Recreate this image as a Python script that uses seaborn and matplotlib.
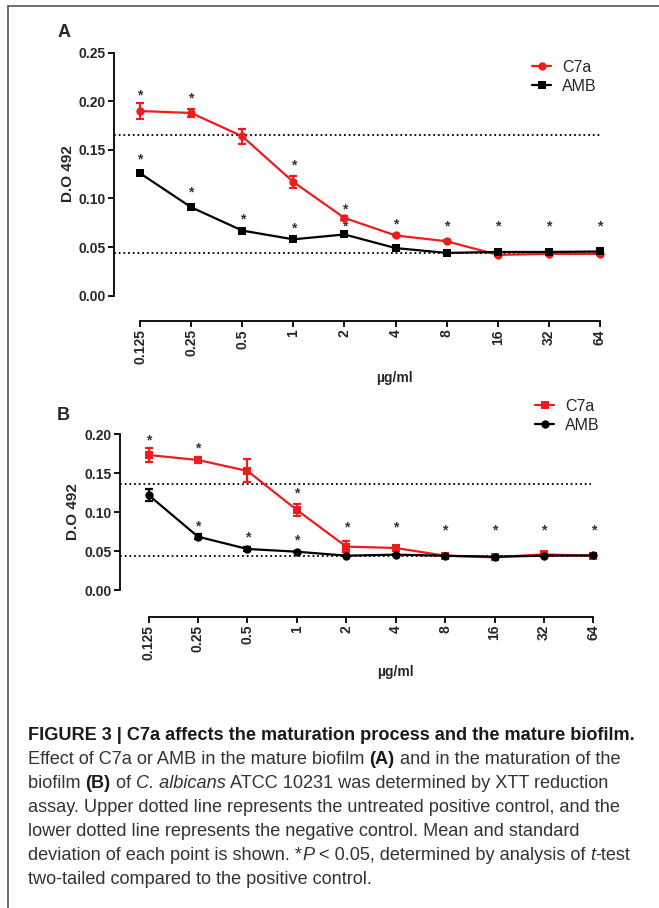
import numpy as np
import pandas as pd
import seaborn as sns
from matplotlib import pyplot as plt
from matplotlib.lines import Line2D

# doses (x categories)
doses = ["0.125", "0.25", "0.5", "1", "2", "4", "8", "16", "32", "64"]

# Panel A: mature biofilm
a_c7a = [0.190, 0.188, 0.164, 0.117, 0.080, 0.062, 0.056, 0.042, 0.043, 0.043]
a_c7a_sd = [0.008, 0.004, 0.0075, 0.006, 0.002, 0.001, 0.001, 0.001, 0.001, 0.001]
a_amb = [0.126, 0.091, 0.067, 0.058, 0.063, 0.049, 0.044, 0.045, 0.045, 0.0455]
a_amb_sd = [0.002, 0.002, 0.002, 0.002, 0.002, 0.001, 0.001, 0.001, 0.001, 0.001]
a_ctrl = [0.165, 0.0438]
a_star_x = [0, 1, 3, 4, 0, 1, 2, 3, 4, 5, 6, 7, 8, 9]
a_star_y = [0.2065, 0.2024, 0.134, 0.089, 0.140, 0.106, 0.078, 0.069, 0.071,
            0.073, 0.071, 0.0717, 0.0717, 0.0717]

# Panel B: maturation of the biofilm
b_c7a = [0.1734, 0.167, 0.153, 0.1028, 0.0557, 0.054, 0.044, 0.042, 0.0458, 0.0437]
b_c7a_sd = [0.0086, 0.004, 0.0148, 0.008, 0.007, 0.003, 0.002, 0.001, 0.002, 0.001]
b_amb = [0.122, 0.0685, 0.0527, 0.0492, 0.0441, 0.0454, 0.044, 0.0428, 0.044, 0.0445]
b_amb_sd = [0.008, 0.003, 0.002, 0.001, 0.001, 0.001, 0.001, 0.001, 0.001, 0.001]
b_ctrl = [0.1366, 0.0441]
b_star_x = [0, 1, 3, 4, 1, 2, 3, 5, 6, 7, 8, 9]
b_star_y = [0.192, 0.1816, 0.1246, 0.080, 0.0822, 0.067, 0.063, 0.080,
            0.077, 0.077, 0.077, 0.077]

sns.set_theme(style="ticks")
plt.rcParams['font.family'] = ['Liberation Sans', 'DejaVu Sans']

W, H = 659, 908
fig = plt.figure(figsize=(W / 100, H / 100), dpi=100)


def px_axes(left, top, right, bottom):
    return fig.add_axes([left / W, 1 - bottom / H, (right - left) / W, (bottom - top) / H])


def panel(ax, c7a, c7a_sd, amb, amb_sd, mk, ctrl, ctrl_x, star_x, star_y,
          ymax, yticks, xlim, off, leg_xy, ylab_xy, xlab_xy):
    pos = np.arange(len(doses))
    df = pd.DataFrame({
        "pos": np.concatenate([pos, pos]),
        "value": c7a + amb,
        "drug": ["C7a"] * len(pos) + ["AMB"] * len(pos),
    })
    pal = {"C7a": "#ee1c1c", "AMB": "black"}
    for name, m, s in [("C7a", c7a, c7a_sd), ("AMB", amb, amb_sd)]:
        ax.errorbar(pos, m, yerr=s, fmt="none", ecolor=pal[name],
                    elinewidth=1.6, capsize=3, capthick=1.6, zorder=3)
    sns.lineplot(data=df, x="pos", y="value", hue="drug", style="drug",
                 hue_order=["C7a", "AMB"], palette=pal, markers=mk,
                 dashes=False, linewidth=1.6, markersize=6,
                 markeredgewidth=0, ax=ax, zorder=4)
    for yv, (x0, x1) in zip(ctrl, ctrl_x):
        ax.hlines(yv, x0, x1, colors="black", linestyles=(0, (1, 1.6)),
                  linewidth=1.3, zorder=2)
    for sx, sy in zip(star_x, star_y):
        ax.text(sx, sy, "*", ha="center", va="center", fontsize=10,
                color="#333333", fontweight="bold")
    ax.set_xlim(*xlim)
    ax.set_ylim(0, ymax)
    ax.set_yticks(yticks)
    ax.set_xticks(pos)
    sns.despine(ax=ax, offset={"bottom": off, "left": 0}, trim=True)
    ax.set_yticks(yticks)
    ax.set_yticklabels([f"{t:.2f}" for t in yticks], fontsize=10, fontweight="bold")
    ax.set_xticks(pos)
    ax.set_xticklabels(doses, rotation=90, fontsize=10, fontweight="bold")
    ax.tick_params(length=4, width=1.3, color="black", pad=2)
    for sp in ["left", "bottom"]:
        ax.spines[sp].set_linewidth(1.3)
        ax.spines[sp].set_color("black")
    ax.set_ylabel("D.O 492", fontsize=11, fontweight="bold", va="center")
    ax.yaxis.set_label_coords(ylab_xy[0] / W, 1 - ylab_xy[1] / H, transform=fig.transFigure)
    ax.set_xlabel("µg/ml", fontsize=10, fontweight="bold", va="center")
    ax.xaxis.set_label_coords(xlab_xy[0] / W, 1 - xlab_xy[1] / H, transform=fig.transFigure)
    ax.legend(loc="upper left", bbox_to_anchor=(leg_xy[0] / W, 1 - leg_xy[1] / H),
              bbox_transform=fig.transFigure, frameon=False, fontsize=11.5,
              handlelength=1.2, handletextpad=0.7, labelspacing=0.25,
              borderpad=0, borderaxespad=0)
    return ax


axA = px_axes(114, 52.7, 610.2, 295.7)
panel(axA, a_c7a, a_c7a_sd, a_amb, a_amb_sd, {"C7a": "o", "AMB": "s"},
      a_ctrl, [(-0.5, 9.03), (-0.5, 9.03)], a_star_x, a_star_y,
      0.25, [0.0, 0.05, 0.10, 0.15, 0.20, 0.25], (-0.509, 9.2), 18.2,
      (532, 60), (68, 174), (394, 377.7))

axB = px_axes(120, 434.3, 603.3, 590)
panel(axB, b_c7a, b_c7a_sd, b_amb, b_amb_sd, {"C7a": "s", "AMB": "o"},
      b_ctrl, [(-0.57, 8.96), (-0.57, 8.96)], b_star_x, b_star_y,
      0.20, [0.0, 0.05, 0.10, 0.15, 0.20], (-0.577, 9.2), 19.2,
      (535, 399), (73, 512), (395, 671.7))

fig.text(58 / W, 1 - 32.5 / H, "A", fontsize=13, fontweight="bold", va="center")
fig.text(57 / W, 1 - 415 / H, "B", fontsize=13, fontweight="bold", va="center")

# frame around figure
fig.add_artist(Line2D([8 / W, 1], [1 - 6 / H, 1 - 6 / H], color="#555555", lw=1.2))
fig.add_artist(Line2D([8 / W, 8 / W], [0, 1 - 6 / H], color="#555555", lw=1.2))

# caption
caption = [
    [("FIGURE 3 | C7a affects the maturation process and the mature biofilm.", "bold", "normal")],
    [("Effect of C7a or AMB in the mature biofilm ", "normal", "normal"), ("(A)", "bold", "normal"),
     (" and in the maturation of the", "normal", "normal")],
    [("biofilm ", "normal", "normal"), ("(B)", "bold", "normal"), (" of ", "normal", "normal"),
     ("C. albicans", "normal", "italic"), (" ATCC 10231 was determined by XTT reduction", "normal", "normal")],
    [("assay. Upper dotted line represents the untreated positive control, and the", "normal", "normal")],
    [("lower dotted line represents the negative control. Mean and standard", "normal", "normal")],
    [("deviation of each point is shown. *", "normal", "normal"), ("P", "normal", "italic"),
     (" < 0.05, determined by analysis of ", "normal", "normal"), ("t", "normal", "italic"),
     ("-test", "normal", "normal")],
    [("two-tailed compared to the positive control.", "normal", "normal")],
]
renderer = fig.canvas.get_renderer()
y0 = 740
for i, line in enumerate(caption):
    x = 28
    for txt, wt, st in line:
        t = fig.text(x / W, 1 - (y0 + i * 24) / H, txt, fontsize=13.1,
                     fontweight=wt, fontstyle=st, va="baseline",
                     color="#1a1a1a" if wt == "bold" else "#333333")
        bb = t.get_window_extent(renderer)
        x += bb.width

fig.savefig("out.png", dpi=100)
